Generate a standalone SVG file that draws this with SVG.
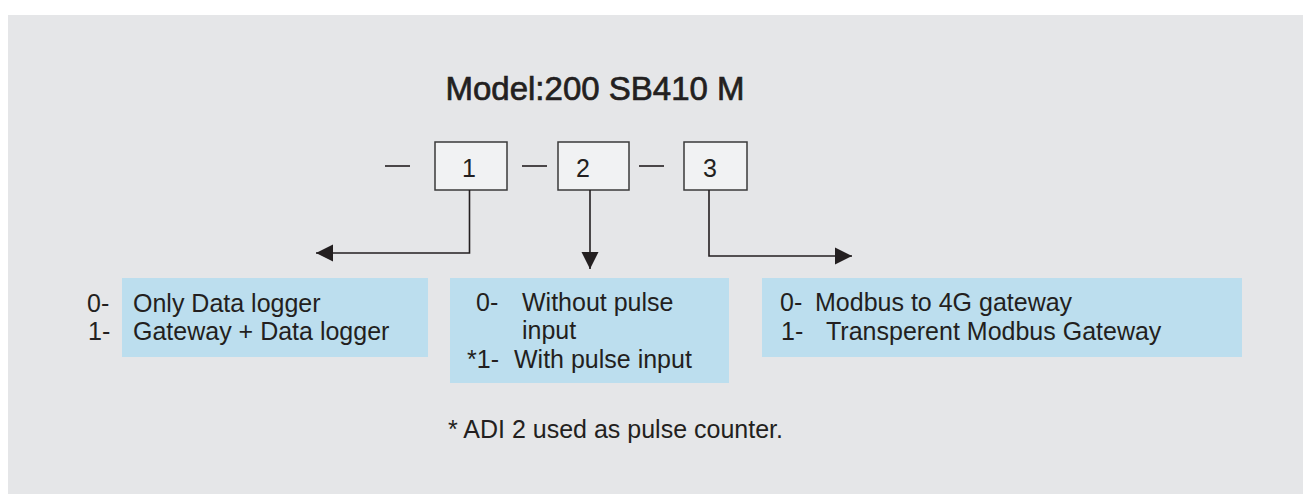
<svg xmlns="http://www.w3.org/2000/svg" width="1303" height="494" viewBox="0 0 1303 494">
<defs>
<style>
text{font-family:"Liberation Sans",Arial,sans-serif;fill:#231f20}
.t{font-size:25px}
.title{stroke:#231f20;stroke-width:0.7}
.box{fill:#f1f2f3;stroke:#3a3a3a;stroke-width:1.5}
.blue{fill:#bcdeee}
.ln{fill:none;stroke:#231f20;stroke-width:1.6}
</style>
<marker id="ah" viewBox="0 0 10 10" refX="10" refY="5" markerWidth="17" markerHeight="18" markerUnits="userSpaceOnUse" orient="auto">
<path d="M0,0 L10,5 L0,10 Z" fill="#231f20"/>
</marker>
</defs>
<rect width="1303" height="494" fill="#ffffff"/>
<rect x="8" y="15" width="1295" height="479" fill="#e5e6e8"/>
<text class="title" x="595" y="100" font-size="33" text-anchor="middle">Model:200 SB410 M</text>
<g id="dashes" class="ln">
<line x1="385" y1="166" x2="410" y2="166"/>
<line x1="522" y1="166" x2="547" y2="166"/>
<line x1="639" y1="166" x2="664" y2="166"/>
</g>
<g id="box1"><rect class="box" x="435" y="142" width="72" height="48"/><text x="462" y="177" font-size="25">1</text></g>
<g id="box2"><rect class="box" x="558" y="142" width="71" height="48"/><text x="576" y="177" font-size="25">2</text></g>
<g id="box3"><rect class="box" x="684" y="142" width="63" height="48"/><text x="703" y="177" font-size="25">3</text></g>
<g id="connectors" class="ln">
<path d="M469.5,190 V253 H316" marker-end="url(#ah)"/>
<path d="M590,190 V269" marker-end="url(#ah)"/>
<path d="M709,190 V256 H852" marker-end="url(#ah)"/>
</g>
<g id="opt1">
<rect class="blue" x="122" y="278" width="306" height="79"/>
<text class="t" x="87" y="312">0-</text>
<text class="t" x="133" y="312">Only Data logger</text>
<text class="t" x="88" y="340">1-</text>
<text class="t" x="133" y="340">Gateway + Data logger</text>
</g>
<g id="opt2">
<rect class="blue" x="450" y="278" width="279" height="105"/>
<text class="t" x="476" y="311">0-</text>
<text class="t" x="522" y="311">Without pulse</text>
<text class="t" x="522" y="339">input</text>
<text class="t" x="467" y="368">*1-</text>
<text class="t" x="514" y="368">With pulse input</text>
</g>
<g id="opt3">
<rect class="blue" x="762" y="278" width="480" height="79"/>
<text class="t" x="780" y="311">0-</text>
<text class="t" x="815" y="311">Modbus to 4G gateway</text>
<text class="t" x="781" y="340">1-</text>
<text class="t" x="826" y="340">Transperent Modbus Gateway</text>
</g>
<text class="t" x="448" y="438">* ADI 2 used as pulse counter.</text>
</svg>
